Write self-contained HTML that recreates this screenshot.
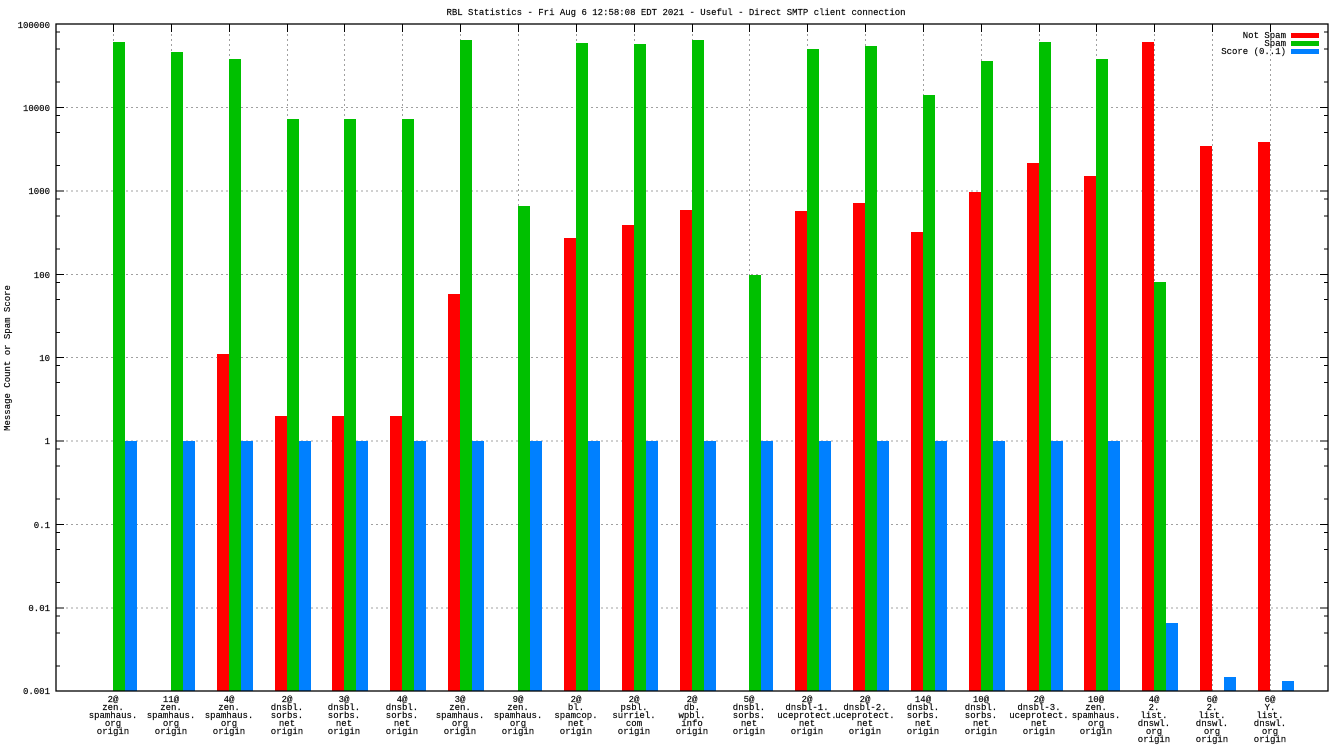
<!DOCTYPE html>
<html><head><meta charset="utf-8"><style>
html,body{margin:0;padding:0;background:#fff}
svg{display:block}
text{font-family:"Liberation Mono","DejaVu Sans Mono",monospace;font-size:9px;fill:#000;stroke:#000;stroke-width:0.15}
.l text{text-anchor:middle}
</style></head><body>
<svg width="1344" height="756" viewBox="0 0 1344 756" xmlns="http://www.w3.org/2000/svg">
<rect width="1344" height="756" fill="#fff"/>
<text x="676" y="15" text-anchor="middle">RBL Statistics - Fri Aug  6 12:58:08 EDT 2021 - Useful - Direct SMTP client connection</text>
<text transform="translate(10,358) rotate(-90)" text-anchor="middle">Message Count or Spam Score</text>
<g stroke="#a0a0a0" stroke-width="1" stroke-dasharray="2,3">
<line x1="56" x2="1328" y1="107.5" y2="107.5"/><line x1="56" x2="1328" y1="191" y2="191"/><line x1="56" x2="1328" y1="274.5" y2="274.5"/><line x1="56" x2="1328" y1="357.5" y2="357.5"/><line x1="56" x2="1328" y1="441" y2="441"/><line x1="56" x2="1328" y1="524.5" y2="524.5"/><line x1="56" x2="1328" y1="608" y2="608"/>
<line x1="113.5" x2="113.5" y1="24" y2="691"/><line x1="171.5" x2="171.5" y1="24" y2="691"/><line x1="229.5" x2="229.5" y1="24" y2="691"/><line x1="287.5" x2="287.5" y1="24" y2="691"/><line x1="344.5" x2="344.5" y1="24" y2="691"/><line x1="402.5" x2="402.5" y1="24" y2="691"/><line x1="460.5" x2="460.5" y1="24" y2="691"/><line x1="518.5" x2="518.5" y1="24" y2="691"/><line x1="576.5" x2="576.5" y1="24" y2="691"/><line x1="634.5" x2="634.5" y1="24" y2="691"/><line x1="692.5" x2="692.5" y1="24" y2="691"/><line x1="749.5" x2="749.5" y1="24" y2="691"/><line x1="807.5" x2="807.5" y1="24" y2="691"/><line x1="865.5" x2="865.5" y1="24" y2="691"/><line x1="923.5" x2="923.5" y1="24" y2="691"/><line x1="981.5" x2="981.5" y1="24" y2="691"/><line x1="1039.5" x2="1039.5" y1="24" y2="691"/><line x1="1096.5" x2="1096.5" y1="24" y2="691"/><line x1="1154.5" x2="1154.5" y1="24" y2="691"/><line x1="1212.5" x2="1212.5" y1="24" y2="691"/><line x1="1270.5" x2="1270.5" y1="24" y2="691"/>
</g>
<g fill="#ff0000">
<rect x="217" y="354" width="12" height="337"/>
<rect x="275" y="416" width="12" height="275"/>
<rect x="332" y="416" width="12" height="275"/>
<rect x="390" y="416" width="12" height="275"/>
<rect x="448" y="294" width="12" height="397"/>
<rect x="564" y="238" width="12" height="453"/>
<rect x="622" y="225" width="12" height="466"/>
<rect x="680" y="210" width="12" height="481"/>
<rect x="795" y="211" width="12" height="480"/>
<rect x="853" y="203" width="12" height="488"/>
<rect x="911" y="232" width="12" height="459"/>
<rect x="969" y="192" width="12" height="499"/>
<rect x="1027" y="163" width="12" height="528"/>
<rect x="1084" y="176" width="12" height="515"/>
<rect x="1142" y="42" width="12" height="649"/>
<rect x="1200" y="146" width="12" height="545"/>
<rect x="1258" y="142" width="12" height="549"/>
</g>
<g fill="#00c000">
<rect x="113" y="42" width="12" height="649"/>
<rect x="171" y="52" width="12" height="639"/>
<rect x="229" y="59" width="12" height="632"/>
<rect x="287" y="119" width="12" height="572"/>
<rect x="344" y="119" width="12" height="572"/>
<rect x="402" y="119" width="12" height="572"/>
<rect x="460" y="40" width="12" height="651"/>
<rect x="518" y="206" width="12" height="485"/>
<rect x="576" y="43" width="12" height="648"/>
<rect x="634" y="44" width="12" height="647"/>
<rect x="692" y="40" width="12" height="651"/>
<rect x="749" y="275" width="12" height="416"/>
<rect x="807" y="49" width="12" height="642"/>
<rect x="865" y="46" width="12" height="645"/>
<rect x="923" y="95" width="12" height="596"/>
<rect x="981" y="61" width="12" height="630"/>
<rect x="1039" y="42" width="12" height="649"/>
<rect x="1096" y="59" width="12" height="632"/>
<rect x="1154" y="282" width="12" height="409"/>
</g>
<g fill="#0080ff">
<rect x="125" y="441" width="12" height="250"/>
<rect x="183" y="441" width="12" height="250"/>
<rect x="241" y="441" width="12" height="250"/>
<rect x="299" y="441" width="12" height="250"/>
<rect x="356" y="441" width="12" height="250"/>
<rect x="414" y="441" width="12" height="250"/>
<rect x="472" y="441" width="12" height="250"/>
<rect x="530" y="441" width="12" height="250"/>
<rect x="588" y="441" width="12" height="250"/>
<rect x="646" y="441" width="12" height="250"/>
<rect x="704" y="441" width="12" height="250"/>
<rect x="761" y="441" width="12" height="250"/>
<rect x="819" y="441" width="12" height="250"/>
<rect x="877" y="441" width="12" height="250"/>
<rect x="935" y="441" width="12" height="250"/>
<rect x="993" y="441" width="12" height="250"/>
<rect x="1051" y="441" width="12" height="250"/>
<rect x="1108" y="441" width="12" height="250"/>
<rect x="1166" y="623" width="12" height="68"/>
<rect x="1224" y="677" width="12" height="14"/>
<rect x="1282" y="681" width="12" height="10"/>
</g>
<rect x="56" y="24" width="1272" height="667" fill="none" stroke="#000" stroke-width="1.3"/>
<g stroke="#000" stroke-width="1">
<path d="M56 107.5h8M56 191h8M56 274.5h8M56 357.5h8M56 441h8M56 524.5h8M56 608h8M1328 107.5h-8M1328 191h-8M1328 274.5h-8M1328 357.5h-8M1328 441h-8M1328 524.5h-8M1328 608h-8"/>
<path d="M56 32h4M56 49h4M56 82h4M56 115.5h4M56 132.5h4M56 165.5h4M56 199h4M56 216h4M56 249h4M56 282.5h4M56 299.5h4M56 332.5h4M56 365.5h4M56 382.5h4M56 415.5h4M56 449h4M56 466h4M56 499h4M56 532.5h4M56 549.5h4M56 582.5h4M56 616h4M56 633h4M56 666h4"/>
<path d="M1328 32h-4M1328 49h-4M1328 82h-4M1328 115.5h-4M1328 132.5h-4M1328 165.5h-4M1328 199h-4M1328 216h-4M1328 249h-4M1328 282.5h-4M1328 299.5h-4M1328 332.5h-4M1328 365.5h-4M1328 382.5h-4M1328 415.5h-4M1328 449h-4M1328 466h-4M1328 499h-4M1328 532.5h-4M1328 549.5h-4M1328 582.5h-4M1328 616h-4M1328 633h-4M1328 666h-4"/>
<path d="M113.5 24v8M171.5 24v8M229.5 24v8M287.5 24v8M344.5 24v8M402.5 24v8M460.5 24v8M518.5 24v8M576.5 24v8M634.5 24v8M692.5 24v8M749.5 24v8M807.5 24v8M865.5 24v8M923.5 24v8M981.5 24v8M1039.5 24v8M1096.5 24v8M1154.5 24v8M1212.5 24v8M1270.5 24v8"/>
</g>
<g text-anchor="end">
<text x="50" y="28">100000</text><text x="50" y="111">10000</text><text x="50" y="194">1000</text><text x="50" y="278">100</text><text x="50" y="361">10</text><text x="50" y="444">1</text><text x="50" y="528">0.1</text><text x="50" y="611">0.01</text><text x="50" y="694">0.001</text>
</g>
<g text-anchor="end"><text x="1286" y="38">Not Spam</text><text x="1286" y="46">Spam</text><text x="1286" y="54">Score (0..1)</text></g>
<rect x="1291" y="33" width="28" height="5" fill="#ff0000"/>
<rect x="1291" y="41" width="28" height="5" fill="#00c000"/>
<rect x="1291" y="49" width="28" height="5" fill="#0080ff"/>
<g class="l">
<text y="702"><tspan x="113">2@</tspan><tspan x="113" dy="8">zen.</tspan><tspan x="113" dy="8">spamhaus.</tspan><tspan x="113" dy="8">org</tspan><tspan x="113" dy="8">origin</tspan></text>
<text y="702"><tspan x="171">11@</tspan><tspan x="171" dy="8">zen.</tspan><tspan x="171" dy="8">spamhaus.</tspan><tspan x="171" dy="8">org</tspan><tspan x="171" dy="8">origin</tspan></text>
<text y="702"><tspan x="229">4@</tspan><tspan x="229" dy="8">zen.</tspan><tspan x="229" dy="8">spamhaus.</tspan><tspan x="229" dy="8">org</tspan><tspan x="229" dy="8">origin</tspan></text>
<text y="702"><tspan x="287">2@</tspan><tspan x="287" dy="8">dnsbl.</tspan><tspan x="287" dy="8">sorbs.</tspan><tspan x="287" dy="8">net</tspan><tspan x="287" dy="8">origin</tspan></text>
<text y="702"><tspan x="344">3@</tspan><tspan x="344" dy="8">dnsbl.</tspan><tspan x="344" dy="8">sorbs.</tspan><tspan x="344" dy="8">net</tspan><tspan x="344" dy="8">origin</tspan></text>
<text y="702"><tspan x="402">4@</tspan><tspan x="402" dy="8">dnsbl.</tspan><tspan x="402" dy="8">sorbs.</tspan><tspan x="402" dy="8">net</tspan><tspan x="402" dy="8">origin</tspan></text>
<text y="702"><tspan x="460">3@</tspan><tspan x="460" dy="8">zen.</tspan><tspan x="460" dy="8">spamhaus.</tspan><tspan x="460" dy="8">org</tspan><tspan x="460" dy="8">origin</tspan></text>
<text y="702"><tspan x="518">9@</tspan><tspan x="518" dy="8">zen.</tspan><tspan x="518" dy="8">spamhaus.</tspan><tspan x="518" dy="8">org</tspan><tspan x="518" dy="8">origin</tspan></text>
<text y="702"><tspan x="576">2@</tspan><tspan x="576" dy="8">bl.</tspan><tspan x="576" dy="8">spamcop.</tspan><tspan x="576" dy="8">net</tspan><tspan x="576" dy="8">origin</tspan></text>
<text y="702"><tspan x="634">2@</tspan><tspan x="634" dy="8">psbl.</tspan><tspan x="634" dy="8">surriel.</tspan><tspan x="634" dy="8">com</tspan><tspan x="634" dy="8">origin</tspan></text>
<text y="702"><tspan x="692">2@</tspan><tspan x="692" dy="8">db.</tspan><tspan x="692" dy="8">wpbl.</tspan><tspan x="692" dy="8">info</tspan><tspan x="692" dy="8">origin</tspan></text>
<text y="702"><tspan x="749">5@</tspan><tspan x="749" dy="8">dnsbl.</tspan><tspan x="749" dy="8">sorbs.</tspan><tspan x="749" dy="8">net</tspan><tspan x="749" dy="8">origin</tspan></text>
<text y="702"><tspan x="807">2@</tspan><tspan x="807" dy="8">dnsbl-1.</tspan><tspan x="807" dy="8">uceprotect.</tspan><tspan x="807" dy="8">net</tspan><tspan x="807" dy="8">origin</tspan></text>
<text y="702"><tspan x="865">2@</tspan><tspan x="865" dy="8">dnsbl-2.</tspan><tspan x="865" dy="8">uceprotect.</tspan><tspan x="865" dy="8">net</tspan><tspan x="865" dy="8">origin</tspan></text>
<text y="702"><tspan x="923">14@</tspan><tspan x="923" dy="8">dnsbl.</tspan><tspan x="923" dy="8">sorbs.</tspan><tspan x="923" dy="8">net</tspan><tspan x="923" dy="8">origin</tspan></text>
<text y="702"><tspan x="981">10@</tspan><tspan x="981" dy="8">dnsbl.</tspan><tspan x="981" dy="8">sorbs.</tspan><tspan x="981" dy="8">net</tspan><tspan x="981" dy="8">origin</tspan></text>
<text y="702"><tspan x="1039">2@</tspan><tspan x="1039" dy="8">dnsbl-3.</tspan><tspan x="1039" dy="8">uceprotect.</tspan><tspan x="1039" dy="8">net</tspan><tspan x="1039" dy="8">origin</tspan></text>
<text y="702"><tspan x="1096">10@</tspan><tspan x="1096" dy="8">zen.</tspan><tspan x="1096" dy="8">spamhaus.</tspan><tspan x="1096" dy="8">org</tspan><tspan x="1096" dy="8">origin</tspan></text>
<text y="702"><tspan x="1154">4@</tspan><tspan x="1154" dy="8">2.</tspan><tspan x="1154" dy="8">list.</tspan><tspan x="1154" dy="8">dnswl.</tspan><tspan x="1154" dy="8">org</tspan><tspan x="1154" dy="8">origin</tspan></text>
<text y="702"><tspan x="1212">6@</tspan><tspan x="1212" dy="8">2.</tspan><tspan x="1212" dy="8">list.</tspan><tspan x="1212" dy="8">dnswl.</tspan><tspan x="1212" dy="8">org</tspan><tspan x="1212" dy="8">origin</tspan></text>
<text y="702"><tspan x="1270">6@</tspan><tspan x="1270" dy="8">Y.</tspan><tspan x="1270" dy="8">list.</tspan><tspan x="1270" dy="8">dnswl.</tspan><tspan x="1270" dy="8">org</tspan><tspan x="1270" dy="8">origin</tspan></text>
</g>
</svg>
</body></html>
